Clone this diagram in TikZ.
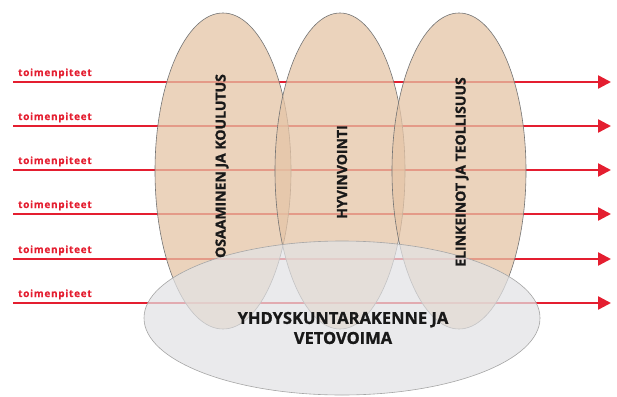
\documentclass[tikz,border=0pt]{standalone}
\usepackage{fontspec}
\setmainfont{Open Sans}
\usetikzlibrary{arrows.meta}
\definecolor{arrred}{RGB}{228,30,48}
\definecolor{tan}{RGB}{228,196,166}
\definecolor{lgray}{RGB}{226,226,228}
\tikzset{
  act/.style={draw=arrred, line width=2.4pt, -{Triangle[length=13pt,width=13pt]}},
  lbl/.style={text=arrred, font=\fontsize{10}{11}\selectfont\bfseries\addfontfeature{LetterSpace=7,FakeBold=0.6}, anchor=base west, inner sep=0pt},
  blob/.style={draw=black!55, line width=0.6pt, fill=tan, fill opacity=0.75},
  base/.style={draw=black!35, line width=0.6pt, fill=lgray, fill opacity=0.72},
  vtxt/.style={font=\fontsize{14}{15}\selectfont\bfseries\addfontfeature{FakeBold=1}, rotate=90, text=black!90},
  htxt/.style={font=\fontsize{16.5}{20}\selectfont\bfseries\addfontfeature{FakeBold=1}, align=center, text=black!90}
}
\begin{document}
\begin{tikzpicture}[x=1pt,y=-1pt]
\useasboundingbox (0,0) rectangle (617,396);
\foreach \i/\y in {1/82,2/126,3/170,4/214,5/259,6/303}{
  \coordinate (s\i) at (13,\y);
  \coordinate (e\i) at (611,\y);
  \draw[act] (s\i) -- (e\i);
  \node[lbl] (l\i) at (18,\y-6) {toimenpiteet};
}
\path[blob] (223,171) ellipse [x radius=68, y radius=158];
\path[blob] (340,171) ellipse [x radius=65, y radius=158];
\path[blob] (459,171) ellipse [x radius=67, y radius=158];
\path[base] (342,318) ellipse [x radius=198, y radius=77];
\node[vtxt] (t1) at (222,166) {OSAAMINEN JA KOULUTUS};
\node[vtxt] (t2) at (342,172) {HYVINVOINTI};
\node[vtxt] (t3) at (462,172) {ELINKEINOT JA TEOLLISUUS};
\node[htxt] (t4) at (343,328) {YHDYSKUNTARAKENNE JA\\VETOVOIMA};
\end{tikzpicture}
\end{document}
